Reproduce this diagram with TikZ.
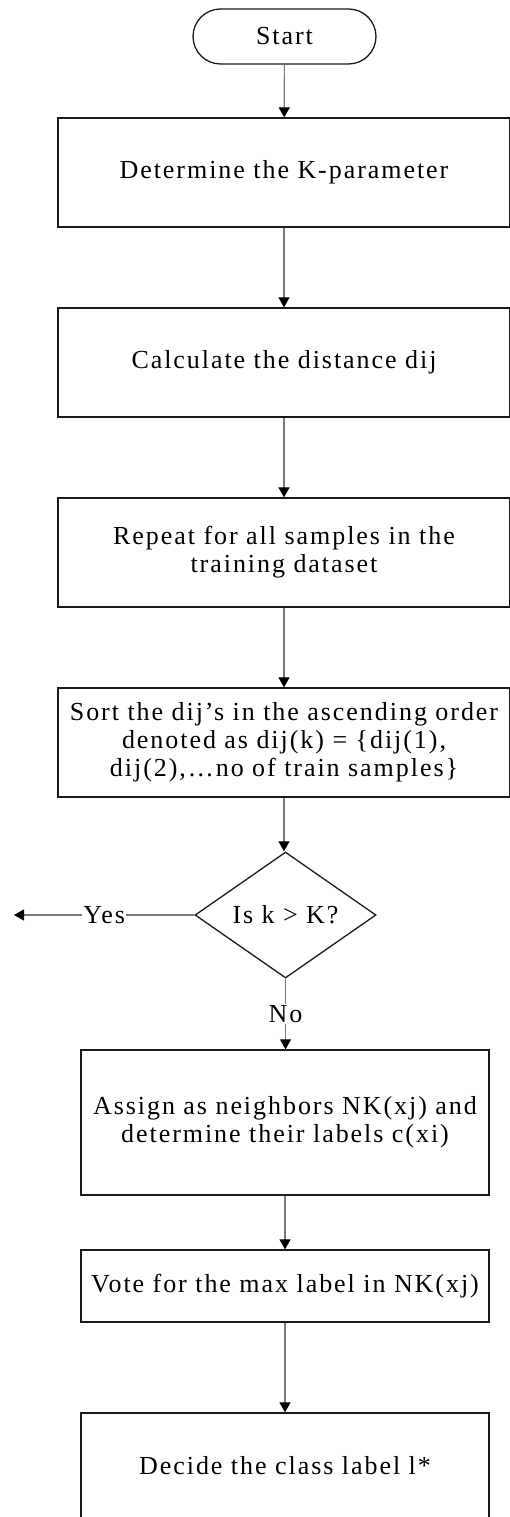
\documentclass[tikz,border=0pt]{standalone}
\usepackage{fontspec}
\setmainfont{Liberation Serif}[LetterSpace=7.5]
\usetikzlibrary{arrows.meta,shapes.geometric}
\definecolor{boxline}{HTML}{1A1A1A}
\definecolor{connline}{HTML}{7A7A7A}
\newcommand\flowfont{\fontsize{26}{28}\selectfont}

\begin{document}
\begin{tikzpicture}[x=1pt,y=-1pt,
  box/.style={draw=boxline, line width=1.3pt, fill=white, inner sep=0pt,
              align=center, font=\flowfont, rectangle},
  wide/.style={box, minimum width=452pt},
  narrow/.style={box, minimum width=408pt},
  term/.style={box, minimum width=183pt, minimum height=55pt, rounded corners=27.5pt},
  decision/.style={draw=boxline, line width=1.3pt, fill=white, diamond, inner sep=0pt,
                   shape aspect=1.44, minimum width=181pt, minimum height=126pt,
                   font=\flowfont},
  conn/.style={draw=connline, line width=1.2pt,
               -{Triangle[length=10pt,width=11pt,color=black]}},
  lbl/.style={fill=white, inner sep=1pt, font=\flowfont}
]
\useasboundingbox (0,0) rectangle (510,1517);
\clip (0,0) rectangle (510,1517);

% process steps
\node[term] (start) at (284.5,36.5) {Start};
\node[wide, minimum height=109pt] (k)    at (284,172.5) {Determine the K-parameter};
\node[wide, minimum height=109pt] (dist) at (284,362.5) {Calculate the distance dij};
\node[wide, minimum height=109pt] (rep)  at (284,552.5) {Repeat for all samples in the\\training dataset};
\node[wide, minimum height=109pt] (sort) at (284,742.5) {Sort the dij’s in the ascending order\\denoted as dij(k) = \{dij(1),\\dij(2),…no of train samples\}};
\node[decision] (dec) at (285.5,915) {Is k > K?};
\node[narrow, minimum height=145pt] (assign) at (285,1122.5) {Assign as neighbors NK(xj) and\\determine their labels c(xi)};
\node[narrow, minimum height=72pt] (vote) at (285,1286) {Vote for the max label in NK(xj)};
\node[narrow, minimum height=150pt, text depth=0pt] (decide) at (285,1488) {};
\node[font=\flowfont] (decidetext) at (285,1466) {Decide the class label l*};
\coordinate (yesend) at (14,915);

% connectors
\draw[conn] (start) -- (k);
\draw[conn] (k) -- (dist);
\draw[conn] (dist) -- (rep);
\draw[conn] (rep) -- (sort);
\draw[conn] (sort.south) -- (sort.south |- dec.north);
\draw[conn] (dec.south) -- node[lbl] {No} (dec.south |- assign.north);
\draw[conn] (dec.west) -- node[lbl] {Yes} (yesend);
\draw[conn] (assign.south) -- (assign.south |- vote.north);
\draw[conn] (vote.south) -- (vote.south |- decide.north);
\end{tikzpicture}
\end{document}
